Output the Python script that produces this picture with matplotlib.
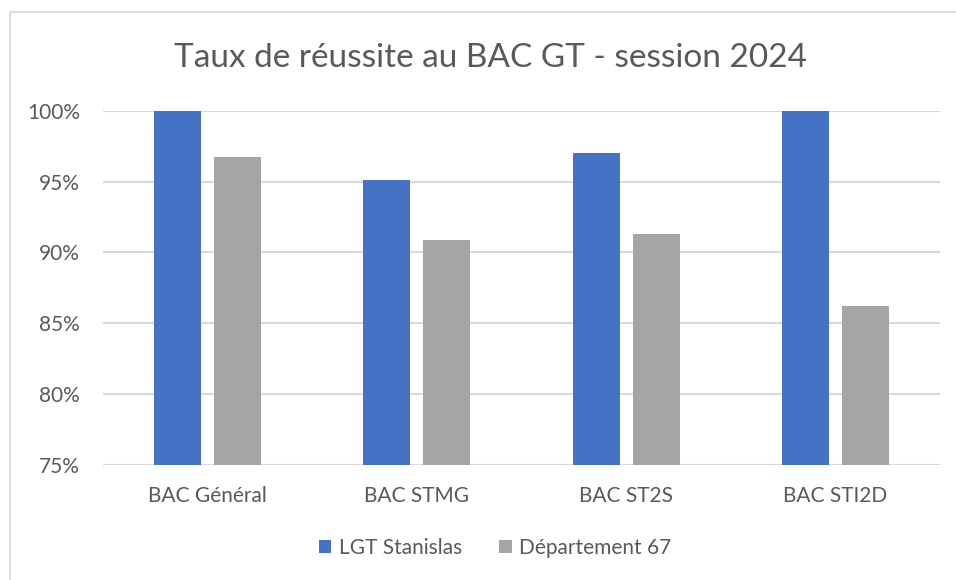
import numpy as np
import matplotlib.pyplot as plt
from matplotlib.patches import Rectangle
from matplotlib.ticker import FuncFormatter

# Data
categories = ['BAC Général', 'BAC STMG', 'BAC ST2S', 'BAC STI2D']
lgt_stanislas = [100.0, 95.1, 97.0, 100.0]
departement_67 = [96.7, 90.9, 91.3, 86.2]

blue = '#4472C4'
grey = '#A5A5A5'
text_col = '#595959'

plt.rcParams['font.family'] = ['Lato', 'DejaVu Sans']

fig = plt.figure(figsize=(9.56, 5.8), dpi=100)
ax = fig.add_axes([0.1077, 0.1983, 0.8756, 0.6108])

# Chart border (only top/left visible in the reference crop)
fig.patches.append(Rectangle((10 / 956, -0.1), 1.2, 1.1 - 12 / 580,
                             transform=fig.transFigure, fill=False,
                             edgecolor='#D9D9D9', linewidth=1.2))

x = np.arange(len(categories))
w = 0.225
off = 0.1435
ax.bar(x - off, lgt_stanislas, w, color=blue, label='LGT Stanislas', zorder=3)
ax.bar(x + off, departement_67, w, color=grey, label='Département 67', zorder=3)

ax.set_ylim(75, 100)
ax.set_xlim(-0.5, len(categories) - 0.5)
ax.set_yticks(np.arange(75, 101, 5))
ax.yaxis.set_major_formatter(FuncFormatter(lambda v, p: f'{v:.0f}%'))
ax.grid(axis='y', color='#D9D9D9', linewidth=1.5, zorder=0)
ax.set_xticks(x)
ax.set_xticklabels(categories)
ax.tick_params(axis='both', length=0, colors=text_col, labelsize=15)
ax.tick_params(axis='y', pad=16.5)
ax.tick_params(axis='x', pad=15)
for s in ax.spines.values():
    s.set_visible(False)

fig.text(491 / 956, 1 - 58 / 580, 'Taux de réussite au BAC GT - session 2024',
         ha='center', va='center', fontsize=24, color=text_col)

fig.legend(loc='center', bbox_to_anchor=(495 / 956, 1 - 548 / 580), ncol=2,
           frameon=False, fontsize=15, handlelength=0.6, handleheight=0.6,
           handletextpad=0.35, columnspacing=1.8, labelcolor=text_col)

fig.savefig('out.png', dpi=100)
